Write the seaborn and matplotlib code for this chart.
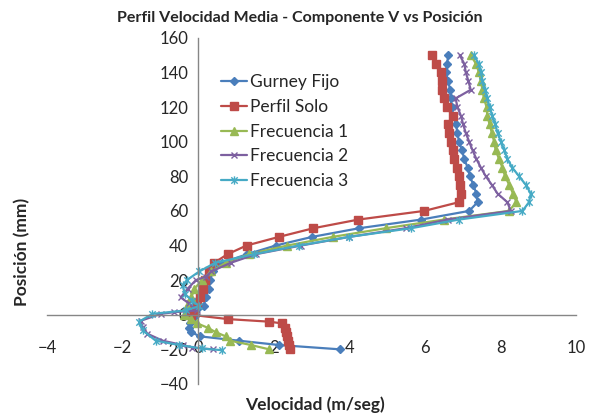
import pandas as pd
import seaborn as sns
import matplotlib.pyplot as plt
from matplotlib.path import Path

# Velocity (m/seg) vs position (mm)
gurney_pos = [150, 145, 140, 135, 130, 125, 120, 115, 110, 105, 100, 95, 90, 85, 80, 75, 70, 65, 60,
              55, 50, 45, 40, 35, 30, 25, 20, 15, 10, 5, 0, -2.5, -5, -7.5, -10, -12.5, -15, -17.5, -20]
gurney_vel = [6.62, 6.58, 6.55, 6.62, 6.66, 6.68, 6.71, 6.75, 6.82, 6.86, 6.90, 6.98, 7.04, 7.13, 7.19, 7.28, 7.36, 7.39, 7.17,
              5.90, 4.26, 3.02, 2.05, 1.30, 0.62, 0.38, 0.32, 0.28, 0.20, 0.15, -0.05, -0.17, -0.22, -0.24, -0.19, 0.05, 1.08, 2.14, 3.76]

solo_pos = [150, 145, 140, 135, 130, 125, 120, 115, 110, 105, 100, 95, 90, 85, 80, 75, 70, 65, 60,
            55, 50, 45, 40, 35, 30, 25, 20, 15, 10, 7.5, 2.5, 0, -2.5, -4, -5, -7.5, -10, -12.5, -15, -17.5, -20]
solo_vel = [6.19, 6.28, 6.42, 6.44, 6.46, 6.51, 6.57, 6.73, 6.60, 6.64, 6.68, 6.73, 6.77, 6.86, 6.90, 6.92, 6.95, 6.89, 5.98,
            4.24, 3.05, 2.14, 1.28, 0.78, 0.42, 0.29, 0.19, 0.13, 0.05, -0.02, -0.11, -0.19, 0.78, 1.88, 2.22, 2.30, 2.33, 2.36, 2.38, 2.40, 2.42]

frec1_pos = [150, 145, 140, 135, 130, 125, 120, 115, 110, 105, 100, 95, 90, 85, 80, 75, 70, 65, 60,
             55, 50, 45, 40, 35, 30, 25, 20, 15, 10, 5, 0, -2.5, -5, -7.5, -10, -12.5, -15, -17.5, -20]
frec1_vel = [7.21, 7.35, 7.43, 7.48, 7.52, 7.56, 7.63, 7.65, 7.71, 7.77, 7.83, 7.87, 7.96, 8.05, 8.12, 8.23, 8.33, 8.42, 8.22,
             6.50, 4.96, 3.56, 2.36, 1.35, 0.73, 0.34, 0.10, -0.10, -0.18, -0.30, -0.37, -0.19, -0.02, 0.25, 0.46, 0.73, 0.85, 1.40, 1.88]

frec2_pos = [150, 145, 140, 135, 130, 125, 120, 115, 110, 105, 100, 95, 90, 85, 80, 75, 70, 65, 60,
             55, 50, 45, 40, 35, 30, 25, 22, 20, 15, 10, 6.5, 2.5, 1.5, 0.5, -3.5, -7, -11, -15, -17.5, -19, -20]
frec2_vel = [6.92, 7.04, 7.08, 7.15, 7.21, 6.81, 6.86, 6.95, 7.01, 7.08, 7.17, 7.26, 7.36, 7.48, 7.61, 7.77, 7.92, 8.18, 8.27,
             6.60, 5.49, 4.00, 2.72, 1.53, 0.86, 0.35, 0.20, -0.06, -0.28, -0.46, -0.24, -0.02, -0.63, -0.99, -1.52, -1.47, -1.34, -0.94, -0.41, -0.15, 0.38]

frec3_pos = [150, 145, 140, 135, 130, 125, 120, 115, 110, 105, 100, 95, 90, 85, 80, 75, 70, 65, 60,
             55, 50, 45, 40, 35, 30, 25, 20, 17, 12, 8, 5, 2.5, 0.5, -4, -9, -15, -17.5, -19.5, -20.5]
frec3_vel = [7.30, 7.42, 7.48, 7.52, 7.59, 7.65, 7.71, 7.78, 7.86, 7.92, 8.01, 8.10, 8.18, 8.31, 8.49, 8.67, 8.80, 8.75, 8.58,
             6.90, 5.63, 4.00, 2.67, 1.48, 0.45, 0.03, -0.30, -0.41, -0.35, -0.15, 0.03, -0.33, -1.21, -1.56, -1.47, -1.12, -0.50, 0.10, 0.64]

series_names = ['Gurney Fijo', 'Perfil Solo', 'Frecuencia 1', 'Frecuencia 2', 'Frecuencia 3']
series_pos = [gurney_pos, solo_pos, frec1_pos, frec2_pos, frec3_pos]
series_vel = [gurney_vel, solo_vel, frec1_vel, frec2_vel, frec3_vel]

colors = ['#4A7EBB', '#BE4B48', '#98B954', '#7D60A0', '#46AAC5']

# Excel style asterisk marker (x with vertical bar)
star = Path([(-1, -1), (1, 1), (-1, 1), (1, -1), (0, -1.3), (0, 1.3)],
            [Path.MOVETO, Path.LINETO, Path.MOVETO, Path.LINETO, Path.MOVETO, Path.LINETO])
markers = ['D', 's', '^', 'x', star]
msizes = [4.5, 6, 6, 5, 6]

sns.set_style('white')
plt.rcParams['font.family'] = ['Lato', 'DejaVu Sans']

fig = plt.figure(figsize=(5.94, 4.16), dpi=100)
ax = fig.add_axes([0.079, 0.077, 0.891, 0.832])

for name, pos, vel, c, m, ms in zip(series_names, series_pos, series_vel, colors, markers, msizes):
    df = pd.DataFrame({'vel': vel, 'pos': pos})
    sns.lineplot(data=df, x='vel', y='pos', sort=False, estimator=None, ax=ax,
                 color=c, lw=1.6, marker=m, markersize=ms, markeredgecolor=c,
                 markerfacecolor=c, markeredgewidth=1.0, label=name)

ax.set_xlim(-4, 10)
ax.set_ylim(-40, 160)
ax.set_xticks(range(-4, 11, 2))
ax.set_yticks(range(-40, 161, 20))
ax.set_xlabel('')
ax.set_ylabel('')

for s in ['top', 'right']:
    ax.spines[s].set_visible(False)
ax.spines['left'].set_position(('data', 0))
ax.spines['bottom'].set_position(('data', 0))
for s in ['left', 'bottom']:
    ax.spines[s].set_color('#868686')
    ax.spines[s].set_linewidth(1.0)

ax.tick_params(axis='y', direction='out', length=4, color='#868686', labelsize=12, pad=3)
ax.tick_params(axis='x', direction='in', length=4, color='#868686', labelsize=12, pad=18)

ax.legend(loc='upper left', bbox_to_anchor=(0.30, 0.94), frameon=False,
          fontsize=12.5, handlelength=1.5, handletextpad=0.15, labelspacing=0.5)

fig.text(0.505, 0.957, 'Perfil Velocidad Media - Componente V vs Posición',
         ha='center', va='center', fontsize=11.5, fontweight='bold')
fig.text(0.53, 0.026, 'Velocidad (m/seg)', ha='center', va='center',
         fontsize=12.5, fontweight='bold')
fig.text(0.037, 0.394, 'Posición (mm)', ha='center', va='center', rotation=90,
         fontsize=12.5, fontweight='bold')

fig.savefig('out.png', dpi=100)
